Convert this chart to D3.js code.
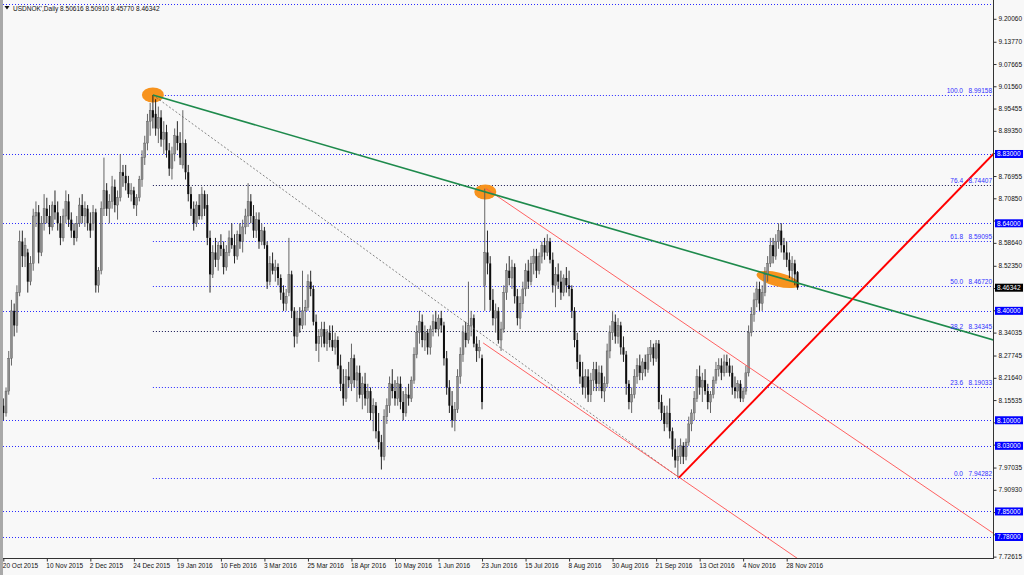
<!DOCTYPE html>
<html><head><meta charset="utf-8">
<script src="https://cdn.jsdelivr.net/npm/d3@7"></script>
<style>
body{margin:0;background:#f8f8f8;}
svg{display:block;}
text{font-family:"Liberation Sans",Arial,sans-serif;}
</style></head>
<body><svg id="c" width="1024" height="575"></svg>
<script>
// ---------- DATA ----------
const title = "USDNOK',Daily  8.50616 8.50910 8.45770 8.46342";
const openS = [8.14,8.12,8.18,8.27,8.40,8.36,8.45,8.59,8.55,8.56,
8.48,8.53,8.66,8.67,8.56,8.64,8.68,8.66,8.63,8.69,
8.67,8.64,8.60,8.66,8.70,8.65,8.62,8.60,8.64,8.69,
8.66,8.68,8.64,8.64,8.67,8.47,8.51,8.68,8.73,8.68,
8.70,8.74,8.69,8.71,8.78,8.77,8.75,8.72,8.73,8.69,
8.71,8.76,8.82,8.86,8.92,8.95,8.94,8.90,8.93,8.87,
8.89,8.84,8.79,8.83,8.88,8.86,8.80,8.86,8.78,8.72,
8.68,8.64,8.69,8.66,8.72,8.69,8.60,8.50,8.56,8.54,
8.58,8.57,8.52,8.56,8.60,8.58,8.55,8.61,8.59,8.63,
8.66,8.70,8.66,8.62,8.65,8.59,8.62,8.58,8.48,8.53,
8.51,8.52,8.49,8.45,8.42,8.45,8.50,8.40,8.33,8.38,
8.36,8.40,8.41,8.48,8.46,8.37,8.31,8.33,8.35,8.31,
8.34,8.32,8.30,8.32,8.25,8.20,8.16,8.22,8.20,8.27,
8.21,8.23,8.17,8.20,8.16,8.18,8.12,8.14,8.07,8.04,
8.00,8.11,8.14,8.20,8.18,8.16,8.20,8.15,8.12,8.17,
8.16,8.21,8.28,8.34,8.37,8.32,8.34,8.30,8.35,8.37,
8.35,8.38,8.36,8.27,8.19,8.14,8.10,8.13,8.22,8.28,
8.34,8.32,8.36,8.38,8.31,8.29,8.27,8.47,8.56,8.53,
8.43,8.38,8.40,8.32,8.35,8.45,8.51,8.49,8.52,8.44,
8.38,8.42,8.46,8.51,8.48,8.53,8.55,8.51,8.55,8.58,
8.56,8.59,8.54,8.47,8.50,8.48,8.45,8.49,8.47,8.46,
8.40,8.32,8.26,8.22,8.19,8.22,8.17,8.21,8.24,8.20,
8.23,8.18,8.20,8.29,8.34,8.37,8.33,8.36,8.30,8.28,
8.20,8.15,8.17,8.22,8.25,8.23,8.26,8.24,8.28,8.30,
8.27,8.31,8.15,8.12,8.09,8.12,8.07,8.02,7.99,8.00,
8.03,8.00,8.04,8.09,8.12,8.16,8.22,8.19,8.21,8.18,
8.15,8.17,8.21,8.24,8.25,8.23,8.26,8.25,8.23,8.19,
8.18,8.20,8.16,8.18,8.23,8.34,8.39,8.43,8.46,8.42,
8.45,8.50,8.53,8.58,8.55,8.59,8.62,8.58,8.56,8.54,
8.51,8.53,8.50616];
const highS = [8.16,8.19,8.29,8.43,8.42,8.47,8.62,8.62,8.60,8.57,
8.55,8.68,8.70,8.69,8.66,8.72,8.71,8.69,8.70,8.73,
8.70,8.66,8.68,8.73,8.72,8.67,8.64,8.66,8.71,8.72,
8.70,8.69,8.67,8.69,8.68,8.52,8.70,8.82,8.75,8.72,
8.77,8.76,8.73,8.83,8.80,8.80,8.77,8.75,8.74,8.72,
8.77,8.84,8.88,8.94,8.97,8.9916,8.98,8.96,8.95,8.92,
8.91,8.86,8.85,8.90,8.92,8.89,8.95,8.87,8.80,8.74,
8.70,8.70,8.72,8.74,8.73,8.72,8.62,8.58,8.60,8.59,
8.61,8.59,8.58,8.62,8.64,8.61,8.62,8.64,8.65,8.68,
8.75,8.72,8.69,8.67,8.67,8.64,8.63,8.59,8.55,8.56,
8.54,8.53,8.50,8.47,8.46,8.60,8.51,8.41,8.40,8.41,
8.51,8.43,8.50,8.51,8.47,8.39,8.35,8.37,8.37,8.35,
8.36,8.36,8.34,8.33,8.28,8.24,8.24,8.26,8.31,8.28,
8.25,8.25,8.22,8.23,8.20,8.19,8.16,8.15,8.12,8.06,
8.13,8.16,8.22,8.24,8.21,8.22,8.22,8.18,8.19,8.20,
8.22,8.30,8.36,8.40,8.39,8.36,8.35,8.36,8.39,8.40,
8.39,8.40,8.37,8.29,8.21,8.18,8.15,8.24,8.30,8.36,
8.37,8.48,8.40,8.39,8.33,8.32,8.28,8.735,8.62,8.55,
8.46,8.42,8.41,8.37,8.47,8.53,8.55,8.54,8.53,8.46,
8.44,8.48,8.53,8.54,8.55,8.57,8.57,8.56,8.59,8.60,
8.61,8.60,8.56,8.52,8.53,8.51,8.50,8.52,8.51,8.47,
8.41,8.34,8.28,8.26,8.24,8.24,8.23,8.26,8.26,8.25,
8.25,8.22,8.31,8.36,8.40,8.39,8.38,8.37,8.33,8.29,
8.21,8.19,8.24,8.27,8.28,8.27,8.28,8.30,8.32,8.31,
8.32,8.32,8.17,8.14,8.14,8.16,8.08,8.05,8.03,8.05,
8.04,8.05,8.11,8.13,8.18,8.24,8.25,8.23,8.24,8.20,
8.18,8.22,8.26,8.27,8.27,8.28,8.28,8.27,8.25,8.22,
8.21,8.21,8.19,8.25,8.36,8.41,8.45,8.48,8.48,8.47,
8.52,8.55,8.60,8.60,8.61,8.64,8.64,8.60,8.59,8.56,
8.55,8.54,8.50910];
const lowS = [8.10,8.11,8.17,8.25,8.33,8.34,8.44,8.52,8.52,8.45,
8.47,8.51,8.63,8.53,8.55,8.62,8.64,8.61,8.62,8.65,
8.62,8.58,8.59,8.64,8.63,8.60,8.58,8.59,8.63,8.64,
8.63,8.62,8.60,8.62,8.45,8.45,8.50,8.66,8.66,8.64,
8.68,8.67,8.65,8.70,8.74,8.73,8.71,8.70,8.68,8.66,
8.70,8.74,8.80,8.84,8.88,8.90,8.88,8.86,8.85,8.83,
8.82,8.77,8.76,8.81,8.84,8.80,8.79,8.76,8.70,8.66,
8.62,8.63,8.65,8.65,8.66,8.58,8.45,8.49,8.52,8.51,
8.55,8.50,8.51,8.55,8.57,8.53,8.54,8.57,8.56,8.61,
8.63,8.64,8.60,8.60,8.57,8.58,8.57,8.46,8.47,8.50,
8.48,8.47,8.43,8.40,8.40,8.44,8.38,8.30,8.31,8.34,
8.35,8.36,8.40,8.44,8.36,8.29,8.26,8.30,8.30,8.29,
8.30,8.29,8.28,8.24,8.18,8.14,8.15,8.19,8.18,8.19,
8.15,8.16,8.13,8.14,8.12,8.10,8.07,8.05,8.02,7.965,
7.99,8.09,8.12,8.16,8.14,8.14,8.13,8.10,8.11,8.14,
8.15,8.20,8.27,8.31,8.30,8.29,8.28,8.28,8.33,8.34,
8.33,8.34,8.25,8.17,8.12,8.08,8.07,8.12,8.20,8.26,
8.30,8.31,8.33,8.30,8.26,8.27,8.13,8.40,8.50,8.40,
8.36,8.34,8.31,8.29,8.34,8.43,8.47,8.46,8.42,8.36,
8.35,8.40,8.44,8.46,8.47,8.50,8.49,8.50,8.53,8.54,
8.55,8.53,8.45,8.41,8.46,8.43,8.44,8.45,8.44,8.38,
8.30,8.24,8.20,8.17,8.16,8.15,8.15,8.18,8.18,8.18,
8.16,8.15,8.19,8.27,8.32,8.31,8.31,8.28,8.26,8.17,
8.13,8.12,8.16,8.20,8.21,8.21,8.22,8.23,8.26,8.25,
8.26,8.13,8.10,8.07,8.08,8.05,8.00,7.97,7.9428,7.98,
7.98,7.99,8.03,8.07,8.10,8.15,8.17,8.15,8.17,8.13,
8.12,8.16,8.20,8.22,8.21,8.22,8.23,8.22,8.17,8.16,
8.16,8.15,8.15,8.17,8.22,8.33,8.37,8.41,8.40,8.40,
8.44,8.48,8.52,8.53,8.54,8.57,8.56,8.54,8.52,8.49,
8.48,8.47,8.45770];
const closeS = [8.12,8.18,8.27,8.40,8.36,8.45,8.59,8.55,8.58,8.48,
8.53,8.66,8.67,8.56,8.64,8.68,8.66,8.63,8.69,8.67,
8.64,8.60,8.66,8.70,8.65,8.62,8.60,8.64,8.69,8.66,
8.68,8.64,8.62,8.67,8.47,8.51,8.68,8.73,8.68,8.70,
8.74,8.69,8.71,8.78,8.77,8.75,8.72,8.73,8.69,8.71,
8.76,8.82,8.86,8.92,8.95,8.93,8.90,8.93,8.87,8.89,
8.84,8.79,8.83,8.88,8.86,8.82,8.86,8.78,8.72,8.68,
8.64,8.69,8.66,8.72,8.68,8.60,8.50,8.56,8.54,8.58,
8.57,8.52,8.56,8.60,8.58,8.55,8.61,8.59,8.63,8.66,
8.70,8.66,8.62,8.65,8.59,8.62,8.58,8.48,8.53,8.51,
8.52,8.49,8.45,8.42,8.44,8.50,8.40,8.33,8.38,8.36,
8.40,8.41,8.48,8.46,8.37,8.31,8.33,8.35,8.31,8.34,
8.32,8.30,8.32,8.25,8.20,8.16,8.22,8.21,8.27,8.21,
8.23,8.17,8.20,8.16,8.18,8.12,8.14,8.07,8.04,8.00,
8.11,8.14,8.20,8.18,8.16,8.20,8.15,8.12,8.17,8.16,
8.21,8.28,8.34,8.37,8.32,8.34,8.30,8.35,8.37,8.35,
8.38,8.36,8.27,8.19,8.14,8.10,8.13,8.22,8.28,8.34,
8.32,8.36,8.38,8.31,8.29,8.30,8.15,8.56,8.53,8.43,
8.38,8.40,8.32,8.35,8.45,8.51,8.49,8.52,8.44,8.38,
8.42,8.46,8.51,8.48,8.53,8.55,8.51,8.55,8.58,8.56,
8.59,8.54,8.47,8.50,8.48,8.45,8.49,8.47,8.46,8.40,
8.32,8.26,8.22,8.19,8.22,8.17,8.21,8.24,8.20,8.23,
8.18,8.20,8.29,8.34,8.37,8.33,8.36,8.30,8.28,8.20,
8.15,8.17,8.22,8.25,8.23,8.26,8.24,8.28,8.30,8.27,
8.31,8.15,8.12,8.09,8.12,8.07,8.02,7.99,8.00,8.03,
8.00,8.04,8.09,8.12,8.16,8.22,8.19,8.21,8.18,8.15,
8.17,8.21,8.24,8.25,8.23,8.26,8.25,8.23,8.19,8.18,
8.20,8.16,8.18,8.23,8.34,8.39,8.43,8.46,8.42,8.45,
8.50,8.53,8.58,8.55,8.59,8.62,8.58,8.56,8.54,8.51,
8.53,8.50,8.46342];

const xTickIdx = [0,16,32,48,64,80,96,112,128,144,160,176,192,208,224,240,256,272,288];
const xTickLabels = ["20 Oct 2015","10 Nov 2015","2 Dec 2015","24 Dec 2015","19 Jan 2016","10 Feb 2016","3 Mar 2016","25 Mar 2016","18 Apr 2016","10 May 2016","1 Jun 2016","23 Jun 2016","15 Jul 2016","8 Aug 2016","30 Aug 2016","21 Sep 2016","13 Oct 2016","4 Nov 2016","28 Nov 2016"];
// all price-axis tick positions; labels hidden under level boxes are left blank
const yTickValues = [9.20060,9.13770,9.07665,9.01560,8.95455,8.89350,8.83245,8.76955,8.70850,8.64745,8.58640,8.52350,8.46245,8.40140,8.34035,8.27745,8.21640,8.15535,8.09430,8.03325,7.97035,7.90930,7.84825,7.78720,7.72615];
const yTickLabels = ["9.20060","9.13770","9.07665","9.01560","8.95455","8.89350","","8.76955","8.70850","","8.58640","8.52350","","","8.34035","8.27745","8.21640","8.15535","","","7.97035","7.90930","","","7.72615"];

const hLevels = [9.2400, 8.83, 8.64, 8.40, 8.10, 8.03, 7.85, 7.78];
const hLevelLabels = ["", "8.83000","8.64000","8.40000","8.10000","8.03000","7.85000","7.78000"];

const fibPct = ["100.0","76.4","61.8","50.0","38.2","23.6","0.0"];
const fibPrice = [8.99158, 8.74407, 8.59095, 8.46720, 8.34345, 8.19033, 7.94282];
const fibStartIdx = 55;
const lastPrice = 8.46342;

// trend lines [barIndex, price]
const greenLine = [[55, 8.99158], [364, 8.32]];
const redUpper = [[177.5, 8.735], [364, 7.79]];
const redLower = [[176.4, 8.312], [300, 7.68]];
const grayDash = [[55, 8.99158], [248.4, 7.94282]];
const redThick = [[248.4, 7.94282], [364, 8.83]];
// highlight ellipses: [barIndex, price]
const ellipses = [[55, 8.992], [177.2, 8.726], [284.8, 8.486]];

// ---------- DRAW ----------
const svg = d3.select("#c");
const L = 3, R = 993, T = 4, B = 558;
const x = d3.scaleLinear().domain([0, 364]).range([3.3, 993.4]);
const y = d3.scaleLinear().domain([7.7224, 9.2412]).range([B, T]);

svg.append("rect").attr("width", 1024).attr("height", 575).attr("fill", "#f8f8f8");
svg.append("rect").attr("x", 0).attr("y", 0).attr("width", 3).attr("height", 575).attr("fill", "#a9a9a9");

svg.append("clipPath").attr("id", "pc").append("rect")
  .attr("x", L).attr("y", T - 2).attr("width", R - L).attr("height", B - T + 2);
const g = svg.append("g").attr("clip-path", "url(#pc)");

// horizontal levels
g.selectAll(".hl").data(hLevels).join("line")
  .attr("x1", L).attr("x2", R)
  .attr("y1", d => Math.round(y(d)) + 0.5).attr("y2", d => Math.round(y(d)) + 0.5)
  .attr("stroke", "#2a2aff").attr("stroke-width", 1).attr("stroke-dasharray", "1,2");

// fib levels
g.selectAll(".fl").data(fibPrice).join("line")
  .attr("x1", x(fibStartIdx)).attr("x2", R)
  .attr("y1", d => Math.round(y(d)) + 0.5).attr("y2", d => Math.round(y(d)) + 0.5)
  .attr("stroke", (d, i) => (fibPct[i] === "76.4" || fibPct[i] === "38.2") ? "#111150" : "#2a2aff")
  .attr("stroke-width", 1).attr("stroke-dasharray", "1,2");

// ellipses (background)
const er = [[11, 7.5, 0], [11, 7.5, 0], [22, 7, 14]];
g.selectAll(".el").data(ellipses).join("ellipse")
  .attr("transform", (d, i) => `translate(${x(d[0])},${y(d[1])}) rotate(${er[i][2]})`)
  .attr("rx", (d, i) => er[i][0]).attr("ry", (d, i) => er[i][1])
  .attr("fill", "#f7931e");

// candles
const idx = d3.range(closeS.length);
g.selectAll(".wk").data(idx).join("line")
  .attr("x1", i => x(i)).attr("x2", i => x(i))
  .attr("y1", i => y(highS[i])).attr("y2", i => y(lowS[i]))
  .attr("stroke", i => closeS[i] >= openS[i] ? "#555" : "#111").attr("stroke-width", 0.9);
g.selectAll(".bd").data(idx).join("rect")
  .attr("x", i => x(i) - 1).attr("width", 2)
  .attr("y", i => y(Math.max(openS[i], closeS[i])))
  .attr("height", i => Math.max(0.8, Math.abs(y(openS[i]) - y(closeS[i]))))
  .attr("fill", i => closeS[i] >= openS[i] ? "#8e8e8e" : "#0d0d0d")
  .attr("stroke", i => closeS[i] >= openS[i] ? "#555" : "none").attr("stroke-width", 0.4);

// trend lines
const ln = d3.line().x(d => x(d[0])).y(d => y(d[1]));
g.append("path").attr("d", ln(grayDash)).attr("fill", "none").attr("stroke", "#666").attr("stroke-width", 0.8).attr("stroke-dasharray", "2,2");
g.append("path").attr("d", ln(redUpper)).attr("fill", "none").attr("stroke", "#ff5050").attr("stroke-width", 0.9);
g.append("path").attr("d", ln(redLower)).attr("fill", "none").attr("stroke", "#ff5050").attr("stroke-width", 0.9);
g.append("path").attr("d", ln(greenLine)).attr("fill", "none").attr("stroke", "#1e8a4c").attr("stroke-width", 1.6);
g.append("path").attr("d", ln(redThick)).attr("fill", "none").attr("stroke", "#ff0000").attr("stroke-width", 2);

// fib labels
const fl = svg.append("g").attr("font-size", "6.5px").attr("fill", "#3030ff");
fl.selectAll(".fp").data(fibPrice).join("text")
  .attr("x", 963).attr("y", d => y(d) - 2).attr("text-anchor", "end").text((d, i) => fibPct[i]);
fl.selectAll(".fv").data(fibPrice).join("text")
  .attr("x", 992).attr("y", d => y(d) - 2).attr("text-anchor", "end").text(d => d.toFixed(5));

// frame
svg.append("line").attr("x1", R + 0.5).attr("x2", R + 0.5).attr("y1", 0).attr("y2", B + 1).attr("stroke", "#333");
svg.append("line").attr("x1", L).attr("x2", R + 1).attr("y1", B + 0.5).attr("y2", B + 0.5).attr("stroke", "#333");

// y axis
const yAxis = d3.axisRight(y).tickValues(yTickValues).tickFormat((d, i) => yTickLabels[i]).tickSize(3).tickPadding(2);
const ya = svg.append("g").attr("transform", `translate(${R + 0.5},0)`).call(yAxis);
ya.select(".domain").remove();
ya.selectAll("line").attr("stroke", "#333");
ya.selectAll("text").attr("font-size", "6.5px").attr("fill", "#111").attr("font-family", "Liberation Sans, Arial, sans-serif");
ya.selectAll("text").filter(function () { return this.textContent === ""; }).remove();

// x axis
const xAxis = d3.axisBottom(x).tickValues(xTickIdx).tickFormat((d, i) => xTickLabels[i]).tickSize(3).tickPadding(2);
const xa = svg.append("g").attr("transform", `translate(0,${B + 0.5})`).call(xAxis);
xa.select(".domain").remove();
xa.selectAll("line").attr("stroke", "#333");
xa.selectAll("text").attr("font-size", "6.5px").attr("fill", "#111").attr("text-anchor", "start").attr("dx", "-1")
  .attr("font-family", "Liberation Sans, Arial, sans-serif");

// level boxes on axis
const boxes = hLevels.map((v, i) => ({ v, t: hLevelLabels[i], c: "#0000ff" })).filter(d => d.t);
boxes.push({ v: lastPrice, t: lastPrice.toFixed(5), c: "#000" });
const bx = svg.append("g");
bx.selectAll("rect").data(boxes).join("rect")
  .attr("x", R + 2).attr("y", d => y(d.v) - 4).attr("width", 28).attr("height", 8).attr("fill", d => d.c);
bx.selectAll("text").data(boxes).join("text")
  .attr("x", R + 4).attr("y", d => y(d.v) + 2.4).attr("font-size", "6.5px").attr("fill", "#fff").text(d => d.t);

// title
svg.append("path").attr("d", "M4.5,6 L9.5,6 L7,9.5 Z").attr("fill", "#111");
svg.append("text").attr("x", 13).attr("y", 10.5).attr("font-size", "6.5px").attr("fill", "#111").text(title);

if (openS.length !== 293 || highS.length !== 293 || lowS.length !== 293 || closeS.length !== 293)
  throw new Error("len " + openS.length + " " + highS.length + " " + lowS.length + " " + closeS.length);
</script>
</body></html>
